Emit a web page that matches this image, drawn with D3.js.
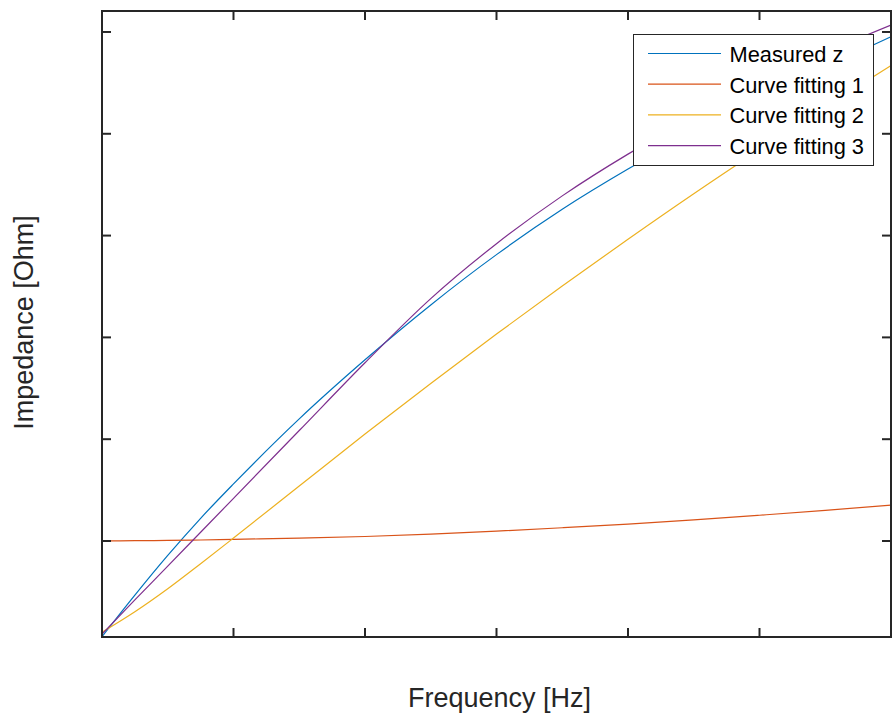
<!DOCTYPE html>
<html>
<head>
<meta charset="utf-8">
<script src="https://cdn.jsdelivr.net/npm/d3@7"></script>
<style>
  body { margin: 0; background: #ffffff; }
  svg { display: block; }
</style>
</head>
<body>
<svg id="chart" width="893" height="717"></svg>
<script>
// Frequency samples [Hz]
const frequency = [0, 250, 500, 750, 1000, 1500, 2000, 2500, 3000, 3500, 4000, 4500, 5000, 5500, 6000];

// Impedance [Ohm] for each series
const measuredZ = [0.60, 4.68, 8.58, 12.23, 15.61, 22.00, 27.80, 33.19, 38.13, 42.58, 46.53, 50.13, 53.43, 56.53, 59.54];
const fitting1  = [10.01, 10.03, 10.06, 10.10, 10.16, 10.28, 10.44, 10.68, 10.97, 11.30, 11.66, 12.07, 12.53, 13.01, 13.53];
const fitting2  = [1.04, 3.05, 5.31, 7.77, 10.29, 15.40, 20.51, 25.48, 30.33, 35.05, 39.64, 44.11, 48.43, 52.63, 56.70];
const fitting3  = [0.85, 4.21, 7.53, 10.86, 14.19, 20.85, 27.51, 33.81, 39.20, 43.90, 48.00, 51.65, 54.95, 57.95, 60.67];

const xTicks = [0, 1000, 2000, 3000, 4000, 5000, 6000];
const yTicks = [10, 20, 30, 40, 50, 60];

const seriesNames  = ["Measured z", "Curve fitting 1", "Curve fitting 2", "Curve fitting 3"];
const seriesColors = ["#0072BD", "#D95319", "#EDB120", "#7E2F8E"];
const seriesValues = [measuredZ, fitting1, fitting2, fitting3];

const xTitle = "Frequency [Hz]";
const yTitle = "Impedance [Ohm]";

// ---- layout ----
const plot = { left: 102, right: 891, top: 11, bottom: 637 };
const axisColor = "#262626";
const font = "'Liberation Sans', Arial, Helvetica, sans-serif";

const svg = d3.select("#chart");

const x = d3.scaleLinear().domain([0, 6000]).range([plot.left, plot.right]);
const y = d3.scaleLinear().domain([0.57, 62.06]).range([plot.bottom, plot.top]);

// clip for data lines
svg.append("defs").append("clipPath").attr("id", "plotClip")
  .append("rect")
  .attr("x", plot.left).attr("y", plot.top)
  .attr("width", plot.right - plot.left).attr("height", plot.bottom - plot.top);

// ---- data lines ----
const line = d3.line()
  .x((d, i) => x(frequency[i]))
  .y(d => y(d))
  .curve(d3.curveMonotoneX);

const lines = svg.append("g").attr("clip-path", "url(#plotClip)");
seriesValues.forEach((vals, k) => {
  lines.append("path")
    .datum(vals)
    .attr("d", line)
    .attr("fill", "none")
    .attr("stroke", seriesColors[k])
    .attr("stroke-width", 1.2);
});

// ---- axes: ticks inward on all four sides, no tick labels ----
const tickLen = 9;
function styleAxis(g) {
  g.select(".domain").remove();
  g.selectAll(".tick line").attr("stroke", axisColor).attr("stroke-width", 2);
  g.selectAll(".tick text").remove();
}
svg.append("g").attr("transform", `translate(0,${plot.bottom})`)
  .call(d3.axisBottom(x).tickValues(xTicks).tickSize(-tickLen).tickFormat("").offset(0)).call(styleAxis);
svg.append("g").attr("transform", `translate(0,${plot.top})`)
  .call(d3.axisTop(x).tickValues(xTicks).tickSize(-tickLen).tickFormat("").offset(0)).call(styleAxis);
svg.append("g").attr("transform", `translate(${plot.left},0)`)
  .call(d3.axisLeft(y).tickValues(yTicks).tickSize(-tickLen).tickFormat("").offset(0)).call(styleAxis);
svg.append("g").attr("transform", `translate(${plot.right},0)`)
  .call(d3.axisRight(y).tickValues(yTicks).tickSize(-tickLen).tickFormat("").offset(0)).call(styleAxis);

// axes box
svg.append("rect")
  .attr("x", plot.left).attr("y", plot.top)
  .attr("width", plot.right - plot.left).attr("height", plot.bottom - plot.top)
  .attr("fill", "none").attr("stroke", axisColor).attr("stroke-width", 2);

// ---- axis titles ----
svg.append("text")
  .attr("x", 499.5).attr("y", 707)
  .attr("text-anchor", "middle")
  .attr("font-family", font).attr("font-size", 27)
  .attr("fill", axisColor)
  .text(xTitle);

svg.append("text")
  .attr("transform", `translate(32.5,322.5) rotate(-90)`)
  .attr("text-anchor", "middle")
  .attr("font-family", font).attr("font-size", 27)
  .attr("fill", axisColor)
  .text(yTitle);

// ---- legend ----
const legend = { x: 633.5, y: 34.5, w: 240, h: 131, rowY0: 53.5, rowGap: 30.7 };
const lg = svg.append("g");
lg.append("rect")
  .attr("x", legend.x).attr("y", legend.y)
  .attr("width", legend.w).attr("height", legend.h)
  .attr("fill", "#ffffff").attr("stroke", axisColor).attr("stroke-width", 1);

seriesNames.forEach((name, k) => {
  const ry = legend.rowY0 + k * legend.rowGap;
  lg.append("line")
    .attr("x1", 648).attr("x2", 721)
    .attr("y1", ry).attr("y2", ry)
    .attr("stroke", seriesColors[k]).attr("stroke-width", 1.2);
  lg.append("text")
    .attr("x", 729.5).attr("y", ry + 8.5)
    .attr("font-family", font).attr("font-size", 21.8)
    .attr("fill", "#000000")
    .text(name);
});
</script>
</body>
</html>
